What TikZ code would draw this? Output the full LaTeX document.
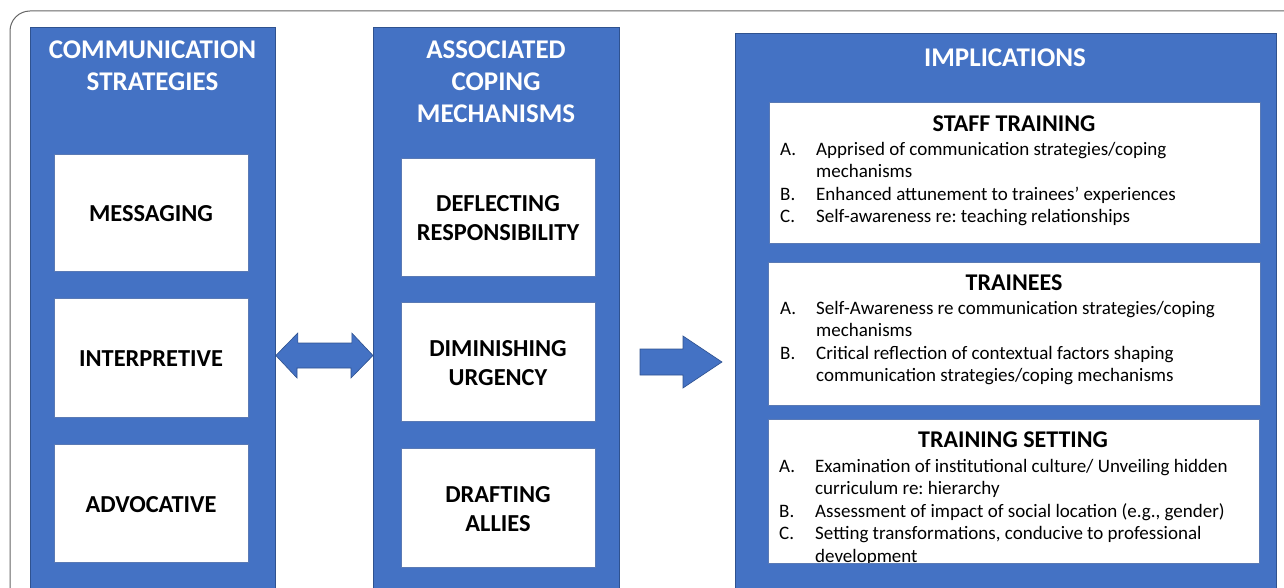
\documentclass[tikz,border=0pt]{standalone}
\usepackage{fontspec}
\setmainfont{Carlito}
\usepackage{array}
\frenchspacing
\definecolor{colblue}{HTML}{4472C4}
\definecolor{colline}{HTML}{2F528F}
\definecolor{boxline}{HTML}{5A7AB5}
\definecolor{frame}{HTML}{666666}
\tikzset{
  column/.style={fill=colblue, draw=colline, line width=0.8pt},
  coltitle/.style={text=white, font=\fontsize{27}{32}\selectfont\bfseries, inner sep=0pt, anchor=base},
  wbox/.style={fill=white, draw=boxline, line width=0.8pt, inner sep=0pt,
     font=\fontsize{24.4}{29}\selectfont\bfseries},
  impbox/.style={fill=white, draw=boxline, line width=0.8pt},
  imptitle/.style={font=\fontsize{24}{26}\selectfont\bfseries, inner sep=0pt, anchor=base},
  implist/.style={font=\fontsize{19}{22.5}\selectfont, inner sep=0pt, anchor=north west, align=left},
  blockarrow/.style={fill=colblue, draw=colline, line width=0.6pt}
}
\newcommand{\ctab}[1]{\begin{tabular}[t]{@{}c@{}}#1\end{tabular}}
\newcommand{\btab}[1]{\begin{tabular}[t]{@{}c@{}}\rule{0pt}{27.3pt}#1\end{tabular}}
\newcommand{\ltab}[1]{\begin{tabular}[t]{@{}p{36pt}@{}l@{}}#1\end{tabular}}
\begin{document}
\begin{tikzpicture}[x=1pt,y=-1pt]
\useasboundingbox (0,0) rectangle (1284,588);
\clip (0,0) rectangle (1284,588);
% outer frame
\draw[frame, line width=1pt, rounded corners=20pt] (10,11) rectangle (1320,640);
% columns
\node[column, inner sep=0pt, anchor=north west, minimum width=245pt, minimum height=580pt] (c1) at (30,27) {};
\node[column, inner sep=0pt, anchor=north west, minimum width=246pt, minimum height=580pt] (c2) at (373,27) {};
\node[column, inner sep=0pt, anchor=north west, minimum width=541pt, minimum height=580pt] (c3) at (735,33) {};
% column titles
\node[coltitle] (t1) at (152.5,59) {\ctab{COMMUNICATION\\STRATEGIES}};
\node[coltitle] (t2) at (496,59) {\ctab{ASSOCIATED\\COPING\\MECHANISMS}};
\node[coltitle] (t3) at (1005,66.5) {IMPLICATIONS};
% column 1 boxes
\node[wbox, minimum width=194pt, minimum height=117pt] (m1) at (151,212.5) {\btab{MESSAGING}};
\node[wbox, minimum width=194pt, minimum height=119pt] (m2) at (151,357.5) {\btab{INTERPRETIVE}};
\node[wbox, minimum width=194pt, minimum height=118pt] (m3) at (151,503) {\btab{ADVOCATIVE}};
% column 2 boxes
\node[wbox, minimum width=194pt, minimum height=118pt] (d1) at (498,217) {\btab{DEFLECTING\\RESPONSIBILITY}};
\node[wbox, minimum width=194pt, minimum height=119pt] (d2) at (498,361.5) {\btab{DIMINISHING\\URGENCY}};
\node[wbox, minimum width=194pt, minimum height=119pt] (d3) at (498,507.5) {\btab{DRAFTING\\ALLIES}};
% implications boxes
\node[impbox, inner sep=0pt, anchor=north west, minimum width=491pt, minimum height=141pt] (i1) at (769,102) {};
\node[impbox, inner sep=0pt, anchor=north west, minimum width=492pt, minimum height=143pt] (i2) at (768,262) {};
\node[impbox, inner sep=0pt, anchor=north west, minimum width=491pt, minimum height=144pt] (i3) at (768,419) {};
% box 1 text
\node[imptitle] (i1t) at (1014,131.5) {STAFF TRAINING};
\node[implist] (i1l) at (780,139.5) {\ltab{A. & Apprised of communication strategies/coping\\
 & mechanisms\\
B. & Enhanced attunement to trainees’ experiences\\
C. & Self-awareness re: teaching relationships}};
% box 2 text
\node[imptitle] (i2t) at (1014,290.5) {TRAINEES};
\node[implist] (i2l) at (780,298.5) {\ltab{A. & Self-Awareness re communication strategies/coping\\
 & mechanisms\\
B. & Critical reflection of contextual factors shaping\\
 & communication strategies/coping mechanisms}};
% box 3 text
\node[imptitle] (i3t) at (1013,447.5) {TRAINING SETTING};
\begin{scope}
\clip (i3.north west) rectangle (i3.south east);
\node[implist] (i3l) at (779,456.5) {\ltab{A. & Examination of institutional culture/ Unveiling hidden\\
 & curriculum re: hierarchy\\
B. & Assessment of impact of social location (e.g., gender)\\
C. & Setting transformations, conducive to professional\\
 & development}};
\end{scope}
\draw[boxline, line width=0.8pt] (i3.south west) -- (i3.south east);
% double arrow between columns 1 and 2
\coordinate (dl) at (c1.east |- 0,355.5);
\coordinate (dr) at (c2.west |- 0,355.5);
\draw[blockarrow] (dl) -- ++(22,-22.5) -- ++(0,10) -- ++(54,0) -- ++(0,-10)
  -- (dr) -- ++(-22,22.5) -- ++(0,-10) -- ++(-54,0) -- ++(0,10) -- cycle;
% single arrow to implications
\coordinate (sa) at (640,362);
\coordinate (sb) at (722,362);
\draw[blockarrow] (sa) ++(0,-13) -- ++(43,0) -- ++(0,-13) -- (sb) -- ++(-39,26) -- ++(0,-13) -- ++(-43,0) -- cycle;
\end{tikzpicture}
\end{document}
